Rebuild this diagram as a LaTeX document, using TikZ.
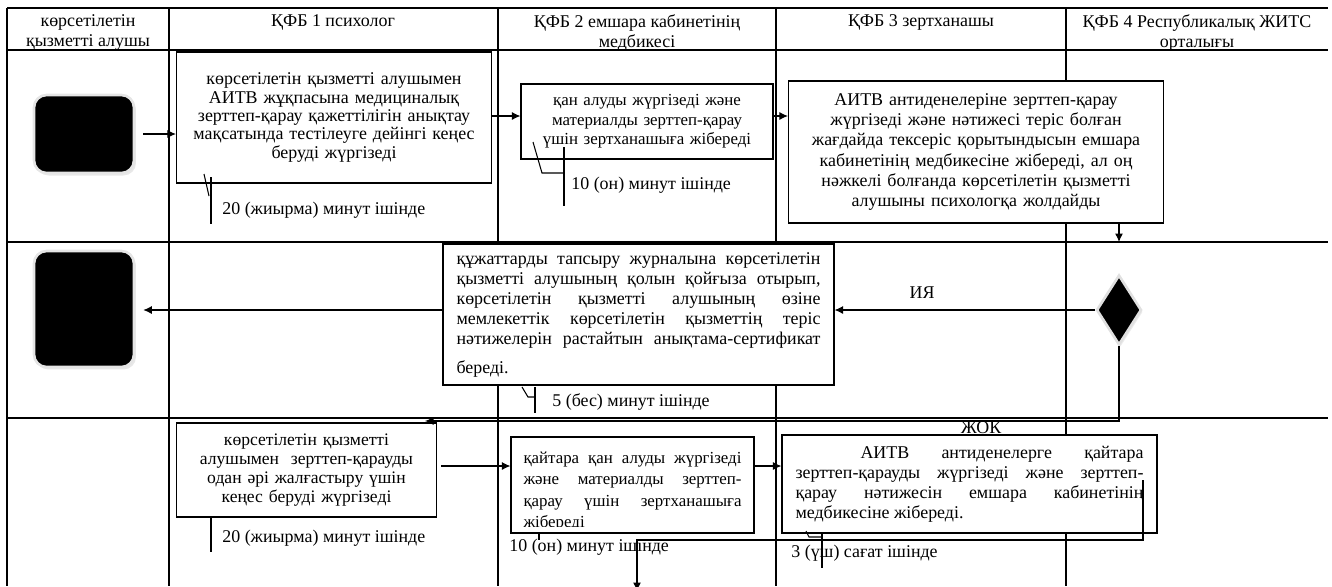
\documentclass[tikz,border=0pt]{standalone}
\usepackage{fontspec}
\setmainfont{Liberation Serif}
\usetikzlibrary{arrows.meta,shapes.geometric,shadows}
\hyphenpenalty=10000
\exhyphenpenalty=10000
\hbadness=10000

\tikzset{
  lane/.style={black, line width=0.7pt},
  procbox/.style={draw, fill=white, rectangle, line width=0.7pt, inner sep=0.1cm, align=center},
  termbox/.style={fill=black, draw=black!10, line width=1.5pt, rounded corners=0.25cm,
    minimum width=2cm, drop shadow={shadow xshift=0.04cm, shadow yshift=-0.05cm, fill=black!18}},
  flow/.style={-{Latex[length=0.17cm,width=0.16cm]}, line width=0.6pt},
  tick/.style={line width=0.6pt},
  timenote/.style={anchor=west, inner sep=0pt},
  headtext/.style={anchor=north, align=center, inner sep=0.12cm},
}

\begin{document}
\begin{tikzpicture}[x=0.02cm, y=-0.02cm, font=\fontsize{10.2}{11.4}\selectfont]
\useasboundingbox (0,0) rectangle (1332,586);

% Draw the lanes of the table
\foreach \y in {8,50,242,418}
  \draw[lane] (7,\y) -- (1328,\y);
\foreach \x in {7,169,498,776,1066}
  \draw[lane] (\x,8) -- (\x,586);

% lane headers
\node[headtext] (hCust) at (88,8) {көрсетілетін\\қызметті алушы};
\node[headtext] (hPsy) at (333,8) {ҚФБ 1 психолог};
\node[headtext] (hNurse) at (637,8) {ҚФБ 2 емшара кабинетінің\\медбикесі};
\node[headtext] (hLab) at (921,8) {ҚФБ 3 зертханашы};
\node[headtext] (hAids) at (1197,8) {ҚФБ 4 Республикалық ЖИТС\\орталығы};

% start and end of the process
\node[termbox, minimum height=1.56cm] (startT) at (84,134) {};
\node[termbox, minimum height=2.32cm] (endT) at (84,309) {};

% first row of steps
\node[procbox, minimum width=6.28cm, minimum height=2.62cm, text width=6.1cm,
  font=\fontsize{10.2}{10.4}\selectfont] (psyA) at (334,117.5)
  {көрсетілетін қызметті алушымен\\АИТВ жұқпасына медициналық\\зерттеп-қарау қажеттілігін анықтау\\мақсатында тестілеуге дейінгі кеңес\\беруді жүргізеді};
\node[procbox, minimum width=5.04cm, minimum height=1.5cm, text width=4.8cm,
  font=\fontsize{9.6}{11.2}\selectfont] (nurseB) at (647,121.5)
  {қан алуды жүргізеді және\\материалды зерттеп-қарау\\үшін зертханашыға жібереді};
\node[procbox, minimum width=7.48cm, minimum height=2.84cm, text width=7.3cm] (labC) at (976,152)
  {АИТВ антиденелеріне зерттеп-қарау\\жүргізеді және нәтижесі теріс болған\\жағдайда тексеріс қорытындысын емшара\\кабинетінің медбикесіне жібереді, ал оң\\нәжкелі болғанда көрсетілетін қызметті\\алушыны психологқа жолдайды};

% the decision
\node[diamond, fill=black, draw=black!12, line width=1.5pt, inner sep=0pt,
  minimum width=0.9cm, minimum height=1.4cm,
  drop shadow={shadow xshift=0.03cm, shadow yshift=-0.04cm, fill=black!15}] (choice) at (1119,310) {};

% second row
\node[procbox, minimum width=7.82cm, minimum height=2.82cm, text width=7.28cm, align=justify] (certD) at (638.5,314.5)
  {құжаттарды тапсыру журналына көрсетілетін\linebreak қызметті алушының қолын қойғыза отырып,\linebreak көрсетілетін қызметті алушының өзіне\linebreak мемлекеттік көрсетілетін қызметтің теріс\linebreak нәтижелерін растайтын анықтама-сертификат\vadjust{\vskip 5pt}\linebreak береді.};

% third row
\node[procbox, minimum width=5.18cm, minimum height=1.88cm, text width=5cm,
  font=\fontsize{10}{10.9}\selectfont] (talkE) at (306.5,470)
  {көрсетілетін қызметті\\алушымен~ зерттеп-қарауды\\одан әрі жалғастыру үшін\\кеңес беруді жүргізеді};
\node[procbox, minimum width=4.86cm, minimum height=1.92cm] (labF) at (632.5,485) {};
\begin{scope}
  % the last line is cut off inside the box
  \clip (labF.north west) rectangle ([yshift=0.15cm]labF.south east);
  \node[anchor=north, inner sep=0pt, text width=4.36cm, align=justify,
    font=\fontsize{9.6}{12.2}\selectfont] (labFtext) at ([yshift=-0.3cm]labF.north)
    {қайтара қан алуды жүргізеді\linebreak және материалды зерттеп-\linebreak қарау үшін зертханашыға\linebreak жібереді};
\end{scope}
\node[procbox, minimum width=7.5cm, minimum height=1.96cm, text width=6.96cm, align=justify] (retestG) at (969.5,484)
  {\hspace*{1.3cm}АИТВ антиденелерге қайтара\linebreak зерттеп-қарауды жүргізеді және зерттеп-\linebreak қарау нәтижесін емшара кабинетінің\linebreak медбикесіне жібереді.};

% connectors
\draw[flow, shorten <=0.16cm] (startT.east) -- (startT.east -| psyA.west);
\coordinate (rowA) at (0,116);
\draw[flow] (psyA.east |- rowA) -- (nurseB.west |- rowA);
\draw[flow] (nurseB.east |- rowA) -- (labC.west |- rowA);
\coordinate (lane2) at (0,242);
\draw[flow] (labC.south -| choice.north) -- (choice.north |- lane2);
\draw[flow] (choice.west) -- (choice.west -| certD.east);
\node (yesLbl) at (922,293) {ИЯ};
\draw[flow, shorten >=0.16cm] (certD.west |- choice.west) -- (endT.east |- choice.west);
\coordinate (noEnd) at (425,421);
\draw[flow] (choice.south) |- (noEnd);
\node (noLbl) at (981,428) {ЖОК};
\coordinate (rowE) at (0,466);
\draw[flow] ([xshift=0.08cm]talkE.east |- rowE) -- (labF.west |- rowE);
\draw[flow] (labF.east |- rowE) -- (retestG.west |- rowE);
% goes on below the picture
\coordinate (contTop) at (1143,480);
\coordinate (contEnd) at (637,591);
\draw[flow] (contTop) -- ++(0,60) -| (contEnd);

% time notes with their ticks
\node[timenote] (timeA) at (222,210) {20 (жиырма) минут ішінде};
\draw[tick] (204,174) -- (209,196);
\draw[tick] (211,177) -- (211,224);
\node[timenote] (timeB) at (571,185) {10 (он) минут ішінде};
\draw[tick] (533,142) -- (542,173) -- (564,173);
\draw[tick] (564,147) -- (564,206);
\node[timenote] (timeD) at (552,402) {5 (бес) минут ішінде};
\draw[tick] (522,387) -- (528,397) -- (535,397);
\draw[tick] (535,387) -- (535,413);
\node[timenote] (timeE) at (222,538) {20 (жиырма) минут ішінде};
\draw[tick] (211,517) -- (211,552);
\node[timenote] (timeF) at (509,547) {10 (он) минут ішінде};
\draw[tick] (539,533) -- (539,540);
\node[timenote] (timeG) at (791,553) {3 (үш) сағат ішінде};
\draw[tick] (806,531) -- (809,537) -- (822,537);
\draw[tick] (822,533) -- (822,568);
\end{tikzpicture}
\end{document}
